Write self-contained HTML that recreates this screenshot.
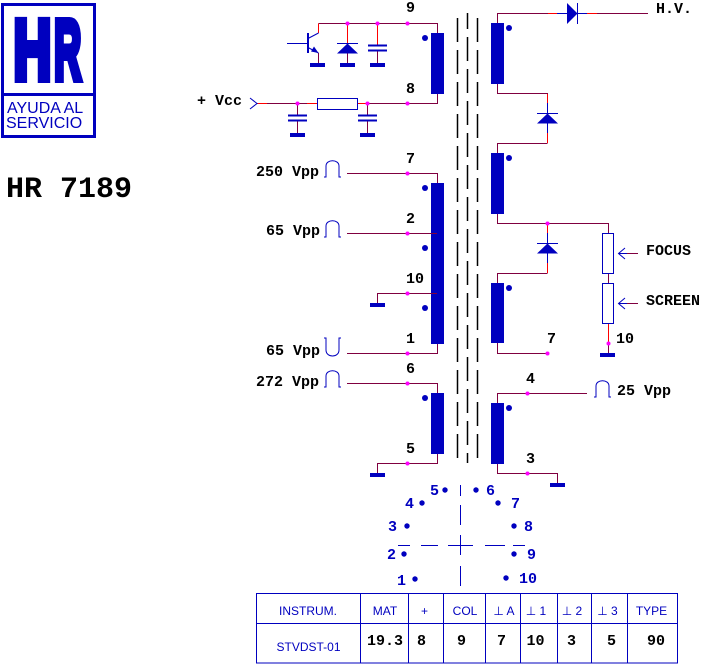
<!DOCTYPE html>
<html><head><meta charset="utf-8">
<style>
html,body{margin:0;padding:0;background:#fff;}
svg{display:block;}
.m{font-family:"Liberation Mono","DejaVu Sans Mono",monospace;font-weight:bold;font-size:15px;fill:#000;}
.mb{font-family:"Liberation Mono","DejaVu Sans Mono",monospace;font-weight:bold;font-size:15px;fill:#0000bf;}
.s{font-family:"Liberation Sans","DejaVu Sans",sans-serif;font-size:12px;fill:#0000bf;}
</style></head><body>
<svg width="702" height="664" viewBox="0 0 702 664" xmlns="http://www.w3.org/2000/svg">
<!-- Logo -->
<rect x="2.5" y="4.5" width="92" height="132" fill="none" stroke="#0000bf" stroke-width="3"/>
<line x1="1" y1="94.5" x2="96" y2="94.5" stroke="#0000bf" stroke-width="3"/>
<text transform="scale(0.62,1)" x="22" y="79" font-family="Liberation Sans, sans-serif" font-weight="bold" font-size="84" fill="#0000bf" stroke="#0000bf" stroke-width="8">H</text>
<text transform="scale(0.447,1)" x="121" y="79" font-family="Liberation Sans, sans-serif" font-weight="bold" font-size="84" fill="#0000bf" stroke="#0000bf" stroke-width="8">R</text>
<text x="7" y="113" font-family="Liberation Sans, sans-serif" font-size="16" fill="#0000bf">AYUDA AL</text>
<text x="6" y="128" font-family="Liberation Sans, sans-serif" font-size="16" fill="#0000bf">SERVICIO</text>
<text x="6" y="197" font-family="Liberation Mono, monospace" font-weight="bold" font-size="30" fill="#000">HR 7189</text>

<!-- core dashed lines -->
<g stroke="#000" stroke-width="1.5">
<line x1="457.5" y1="18" x2="457.5" y2="458" stroke-dasharray="24 8"/>
<line x1="467.5" y1="13" x2="467.5" y2="463" stroke-dasharray="24 8" stroke-dashoffset="8"/>
<line x1="477.5" y1="18" x2="477.5" y2="458" stroke-dasharray="24 8"/>
</g>

<!-- maroon wires -->
<g fill="none" stroke="#800040" stroke-width="1">
<path d="M318.5,23.5 H437.5 V33"/>
<path d="M318.5,53 V63"/>
<path d="M347.5,53 V63"/>
<path d="M377.5,50.5 V63"/>
<path d="M257,103.5 H317.5 M357.5,103.5 H437.5 V94"/>
<path d="M297.5,103.5 V115 M297.5,120.5 V133"/>
<path d="M367.5,103.5 V115 M367.5,120.5 V133"/>
<path d="M497.5,23 V13.5 H648"/>
<path d="M497.5,84 V93.5 H547.5 V103"/>
<path d="M547.5,143.5 H497.5 V153"/>
<path d="M497.5,214 V223.5 H608.5 V233.5"/>
<path d="M547.5,273.5 H497.5 V283"/>
<path d="M497.5,343 V353.5 H547.5"/>
<path d="M608.5,273.5 V283.5 M608.5,323.5 V353"/>
<path d="M627,253.5 H638 M627,303.5 H638"/>
<path d="M347,173.5 H437.5 V183"/>
<path d="M347,233.5 H437"/>
<path d="M437,293.5 H377.5 V303"/>
<path d="M347,353.5 H437.5 V344"/>
<path d="M347,383.5 H437.5 V393"/>
<path d="M437.5,454 V463.5 H377.5 V473"/>
<path d="M497.5,403 V393.5 H587"/>
<path d="M497.5,464 V473.5 H557.5 V483"/>
</g>
<!-- red segments -->
<g fill="none" stroke="#ff0000" stroke-width="1">
<path d="M318.5,23.5 V33"/>
<path d="M347.5,24 V43"/>
<path d="M377.5,24 V45"/>
<path d="M258,103.5 H267 M307,103.5 H317 M358,103.5 H367"/>
<path d="M548,13.5 H557 M587,13.5 H597"/>
<path d="M547.5,94 V103 M547.5,133 V143"/>
<path d="M547.5,224 V233 M547.5,263 V273"/>
<path d="M608.5,324 V343"/>
</g>
<!-- blue component leads -->
<g fill="none" stroke="#0000bf" stroke-width="1">
<path d="M557,13.5 H567 M577,13.5 H587"/>
<path d="M547.5,103 V113 M547.5,123 V133"/>
<path d="M547.5,233 V243 M547.5,253 V263"/>
<path d="M287,43.5 H307"/>
<path d="M318.5,33 L308,38.5"/>
<path d="M308,47.5 L318.5,53"/>
<polyline points="250,98 257,103.5 250,109"/>
<polyline points="625,248 618.5,253.5 625,259"/>
<polyline points="625,298 618.5,303.5 625,309"/>
<path d="M618.5,253.5 H627 M618.5,303.5 H627"/>
</g>

<!-- transistor -->
<rect x="307" y="33" width="2" height="20" fill="#0000bf"/>
<polygon points="318.5,53 311,51.5 314,46.5" fill="#0000bf"/>
<!-- diodes -->
<line x1="337" y1="43.5" x2="358" y2="43.5" stroke="#0000bf"/>
<polygon points="347.5,43.5 337,53.5 358,53.5" fill="#0000bf"/>
<line x1="577.5" y1="3" x2="577.5" y2="24" stroke="#0000bf"/>
<polygon points="567,3 567,24 577.5,13.5" fill="#0000bf"/>
<line x1="537" y1="113.5" x2="558" y2="113.5" stroke="#0000bf"/>
<polygon points="547.5,113.5 537,123.5 558,123.5" fill="#0000bf"/>
<line x1="537" y1="243.5" x2="558" y2="243.5" stroke="#0000bf"/>
<polygon points="547.5,243.5 537,253.5 558,253.5" fill="#0000bf"/>
<!-- capacitors -->
<g stroke="#0000bf" stroke-width="2">
<line x1="368" y1="45.5" x2="387" y2="45.5"/><line x1="368" y1="50.5" x2="387" y2="50.5"/>
<line x1="288" y1="115.5" x2="307" y2="115.5"/><line x1="288" y1="120.5" x2="307" y2="120.5"/>
<line x1="358" y1="115.5" x2="377" y2="115.5"/><line x1="358" y1="120.5" x2="377" y2="120.5"/>
</g>
<!-- resistors -->
<rect x="317.5" y="98.5" width="40" height="11" fill="#fff" stroke="#0000bf"/>
<rect x="602.5" y="233.5" width="11" height="40" fill="#fff" stroke="#0000bf"/>
<rect x="602.5" y="283.5" width="11" height="40" fill="#fff" stroke="#0000bf"/>
<!-- grounds -->
<g fill="#0000bf">
<rect x="310" y="63" width="15" height="4"/>
<rect x="340" y="63" width="15" height="4"/>
<rect x="370" y="63" width="15" height="4"/>
<rect x="290" y="133" width="15" height="4"/>
<rect x="360" y="133" width="15" height="4"/>
<rect x="370" y="303" width="15" height="4"/>
<rect x="370" y="473" width="15" height="4"/>
<rect x="550" y="483" width="15" height="4"/>
<rect x="600" y="353" width="15" height="4"/>
</g>
<!-- coils -->
<g fill="#0000bf">
<rect x="431" y="33" width="13" height="61"/>
<rect x="431" y="183" width="13" height="161"/>
<rect x="431" y="393" width="13" height="61"/>
<rect x="491" y="23" width="13" height="61"/>
<rect x="491" y="153" width="13" height="61"/>
<rect x="491" y="283" width="13" height="60"/>
<rect x="491" y="403" width="13" height="61"/>
<circle cx="425" cy="38" r="3"/>
<circle cx="425" cy="188" r="3"/>
<circle cx="425" cy="248" r="3"/>
<circle cx="425" cy="308" r="3"/>
<circle cx="425" cy="398" r="3"/>
<circle cx="509" cy="28" r="3"/>
<circle cx="509" cy="158" r="3"/>
<circle cx="509" cy="288" r="3"/>
<circle cx="509" cy="408" r="3"/>
</g>
<!-- wires drawn over coils -->
<path d="M431,233.5 H437 M431,293.5 H437" stroke="#800040" fill="none"/>
<!-- magenta junction dots -->
<g fill="#ff00ff">
<circle cx="347.5" cy="23.5" r="2"/><circle cx="377.5" cy="23.5" r="2"/><circle cx="407.5" cy="23.5" r="2"/>
<circle cx="297.5" cy="103.5" r="2"/><circle cx="367.5" cy="103.5" r="2"/><circle cx="407.5" cy="103.5" r="2"/>
<circle cx="407.5" cy="173.5" r="2"/><circle cx="407.5" cy="233.5" r="2"/><circle cx="407.5" cy="293.5" r="2"/>
<circle cx="407.5" cy="353.5" r="2"/><circle cx="407.5" cy="383.5" r="2"/><circle cx="407.5" cy="463.5" r="2"/>
<circle cx="547.5" cy="223.5" r="2"/><circle cx="547.5" cy="353.5" r="2"/><circle cx="608.5" cy="343.5" r="2"/>
<circle cx="527.5" cy="393.5" r="2"/><circle cx="527.5" cy="473.5" r="2"/>
</g>
<!-- pulse symbols -->
<g fill="none" stroke="#0000bf" stroke-width="1">
<path d="M324,177 H326 V166 C326,159 339,159 339,166 V177 H341"/>
<path d="M324,237 H326 V226 C326,219 339,219 339,226 V237 H341"/>
<path d="M324,338 H326 V350 C326,358 339,358 339,350 V338 H341"/>
<path d="M324,387 H326 V376 C326,369 339,369 339,376 V387 H341"/>
<path d="M594,397 H596 V386 C596,379 609,379 609,386 V397 H611"/>
</g>

<!-- labels -->
<text class="m" x="406" y="12">9</text>
<text class="m" x="406" y="93">8</text>
<text class="m" x="197" y="105">+ Vcc</text>
<text class="m" x="656" y="13">H.V.</text>
<text class="m" x="406" y="163">7</text>
<text class="m" x="406" y="223">2</text>
<text class="m" x="406" y="283">10</text>
<text class="m" x="406" y="343">1</text>
<text class="m" x="406" y="373">6</text>
<text class="m" x="406" y="453">5</text>
<text class="m" x="526" y="383">4</text>
<text class="m" x="526" y="463">3</text>
<text class="m" x="547" y="343">7</text>
<text class="m" x="616" y="343">10</text>
<text class="m" x="646" y="255">FOCUS</text>
<text class="m" x="646" y="305">SCREEN</text>
<text class="m" x="256" y="176">250 Vpp</text>
<text class="m" x="266" y="235">65 Vpp</text>
<text class="m" x="266" y="355">65 Vpp</text>
<text class="m" x="256" y="386">272 Vpp</text>
<text class="m" x="617" y="395">25 Vpp</text>

<!-- pin diagram -->
<g fill="#0000bf">
<circle cx="445" cy="490" r="2.7"/><circle cx="476" cy="490" r="2.7"/>
<circle cx="422" cy="503" r="2.7"/><circle cx="498" cy="503" r="2.7"/>
<circle cx="407" cy="526" r="2.7"/><circle cx="514" cy="526" r="2.7"/>
<circle cx="404" cy="554" r="2.7"/><circle cx="514" cy="554" r="2.7"/>
<circle cx="415" cy="579" r="2.7"/><circle cx="506" cy="578" r="2.7"/>
</g>
<g stroke="#0000bf" stroke-width="1">
<path d="M460.5,485 V496 M460.5,505 V525 M460.5,535 V555 M460.5,566 V586"/>
<path d="M398,545.5 H410 M421,545.5 H438 M448,545.5 H473 M485,545.5 H505 M513,545.5 H525"/>
</g>
<text class="mb" x="430" y="495">5</text>
<text class="mb" x="486" y="495">6</text>
<text class="mb" x="405" y="508">4</text>
<text class="mb" x="511" y="508">7</text>
<text class="mb" x="388" y="531">3</text>
<text class="mb" x="524" y="531">8</text>
<text class="mb" x="387" y="559">2</text>
<text class="mb" x="527" y="559">9</text>
<text class="mb" x="397" y="585">1</text>
<text class="mb" x="519" y="583">10</text>

<!-- table -->
<g stroke="#0000bf" stroke-width="1" fill="none">
<rect x="256.5" y="593.5" width="421" height="69.5"/>
<line x1="256" y1="623.5" x2="678" y2="623.5"/>
<line x1="360.5" y1="593" x2="360.5" y2="663"/>
<line x1="408.5" y1="593" x2="408.5" y2="663"/>
<line x1="443.5" y1="593" x2="443.5" y2="663"/>
<line x1="485.5" y1="593" x2="485.5" y2="663"/>
<line x1="520.5" y1="593" x2="520.5" y2="663"/>
<line x1="557.5" y1="593" x2="557.5" y2="663"/>
<line x1="591.5" y1="593" x2="591.5" y2="663"/>
<line x1="627.5" y1="593" x2="627.5" y2="663"/>
</g>
<g class="s" text-anchor="middle">
<text class="s" x="308" y="615" text-anchor="middle">INSTRUM.</text>
<text class="s" x="385" y="615" text-anchor="middle">MAT</text>
<text class="s" x="424.5" y="615" text-anchor="middle">+</text>
<text class="s" x="465" y="615" text-anchor="middle">COL</text>
<text class="s" x="504" y="615" text-anchor="middle">⊥ A</text>
<text class="s" x="536" y="615" text-anchor="middle">⊥ 1</text>
<text class="s" x="572" y="615" text-anchor="middle">⊥ 2</text>
<text class="s" x="607.5" y="615" text-anchor="middle">⊥ 3</text>
<text class="s" x="651.5" y="615" text-anchor="middle">TYPE</text>
<text class="s" x="308.5" y="651" text-anchor="middle">STVDST-01</text>
</g>
<g text-anchor="middle">
<text class="m" x="385" y="645" text-anchor="middle">19.3</text>
<text class="m" x="421.5" y="645" text-anchor="middle">8</text>
<text class="m" x="461.5" y="645" text-anchor="middle">9</text>
<text class="m" x="501.5" y="645" text-anchor="middle">7</text>
<text class="m" x="535.5" y="645" text-anchor="middle">10</text>
<text class="m" x="571.5" y="645" text-anchor="middle">3</text>
<text class="m" x="611.5" y="645" text-anchor="middle">5</text>
<text class="m" x="656" y="645" text-anchor="middle">90</text>
</g>
</svg>
</body></html>
